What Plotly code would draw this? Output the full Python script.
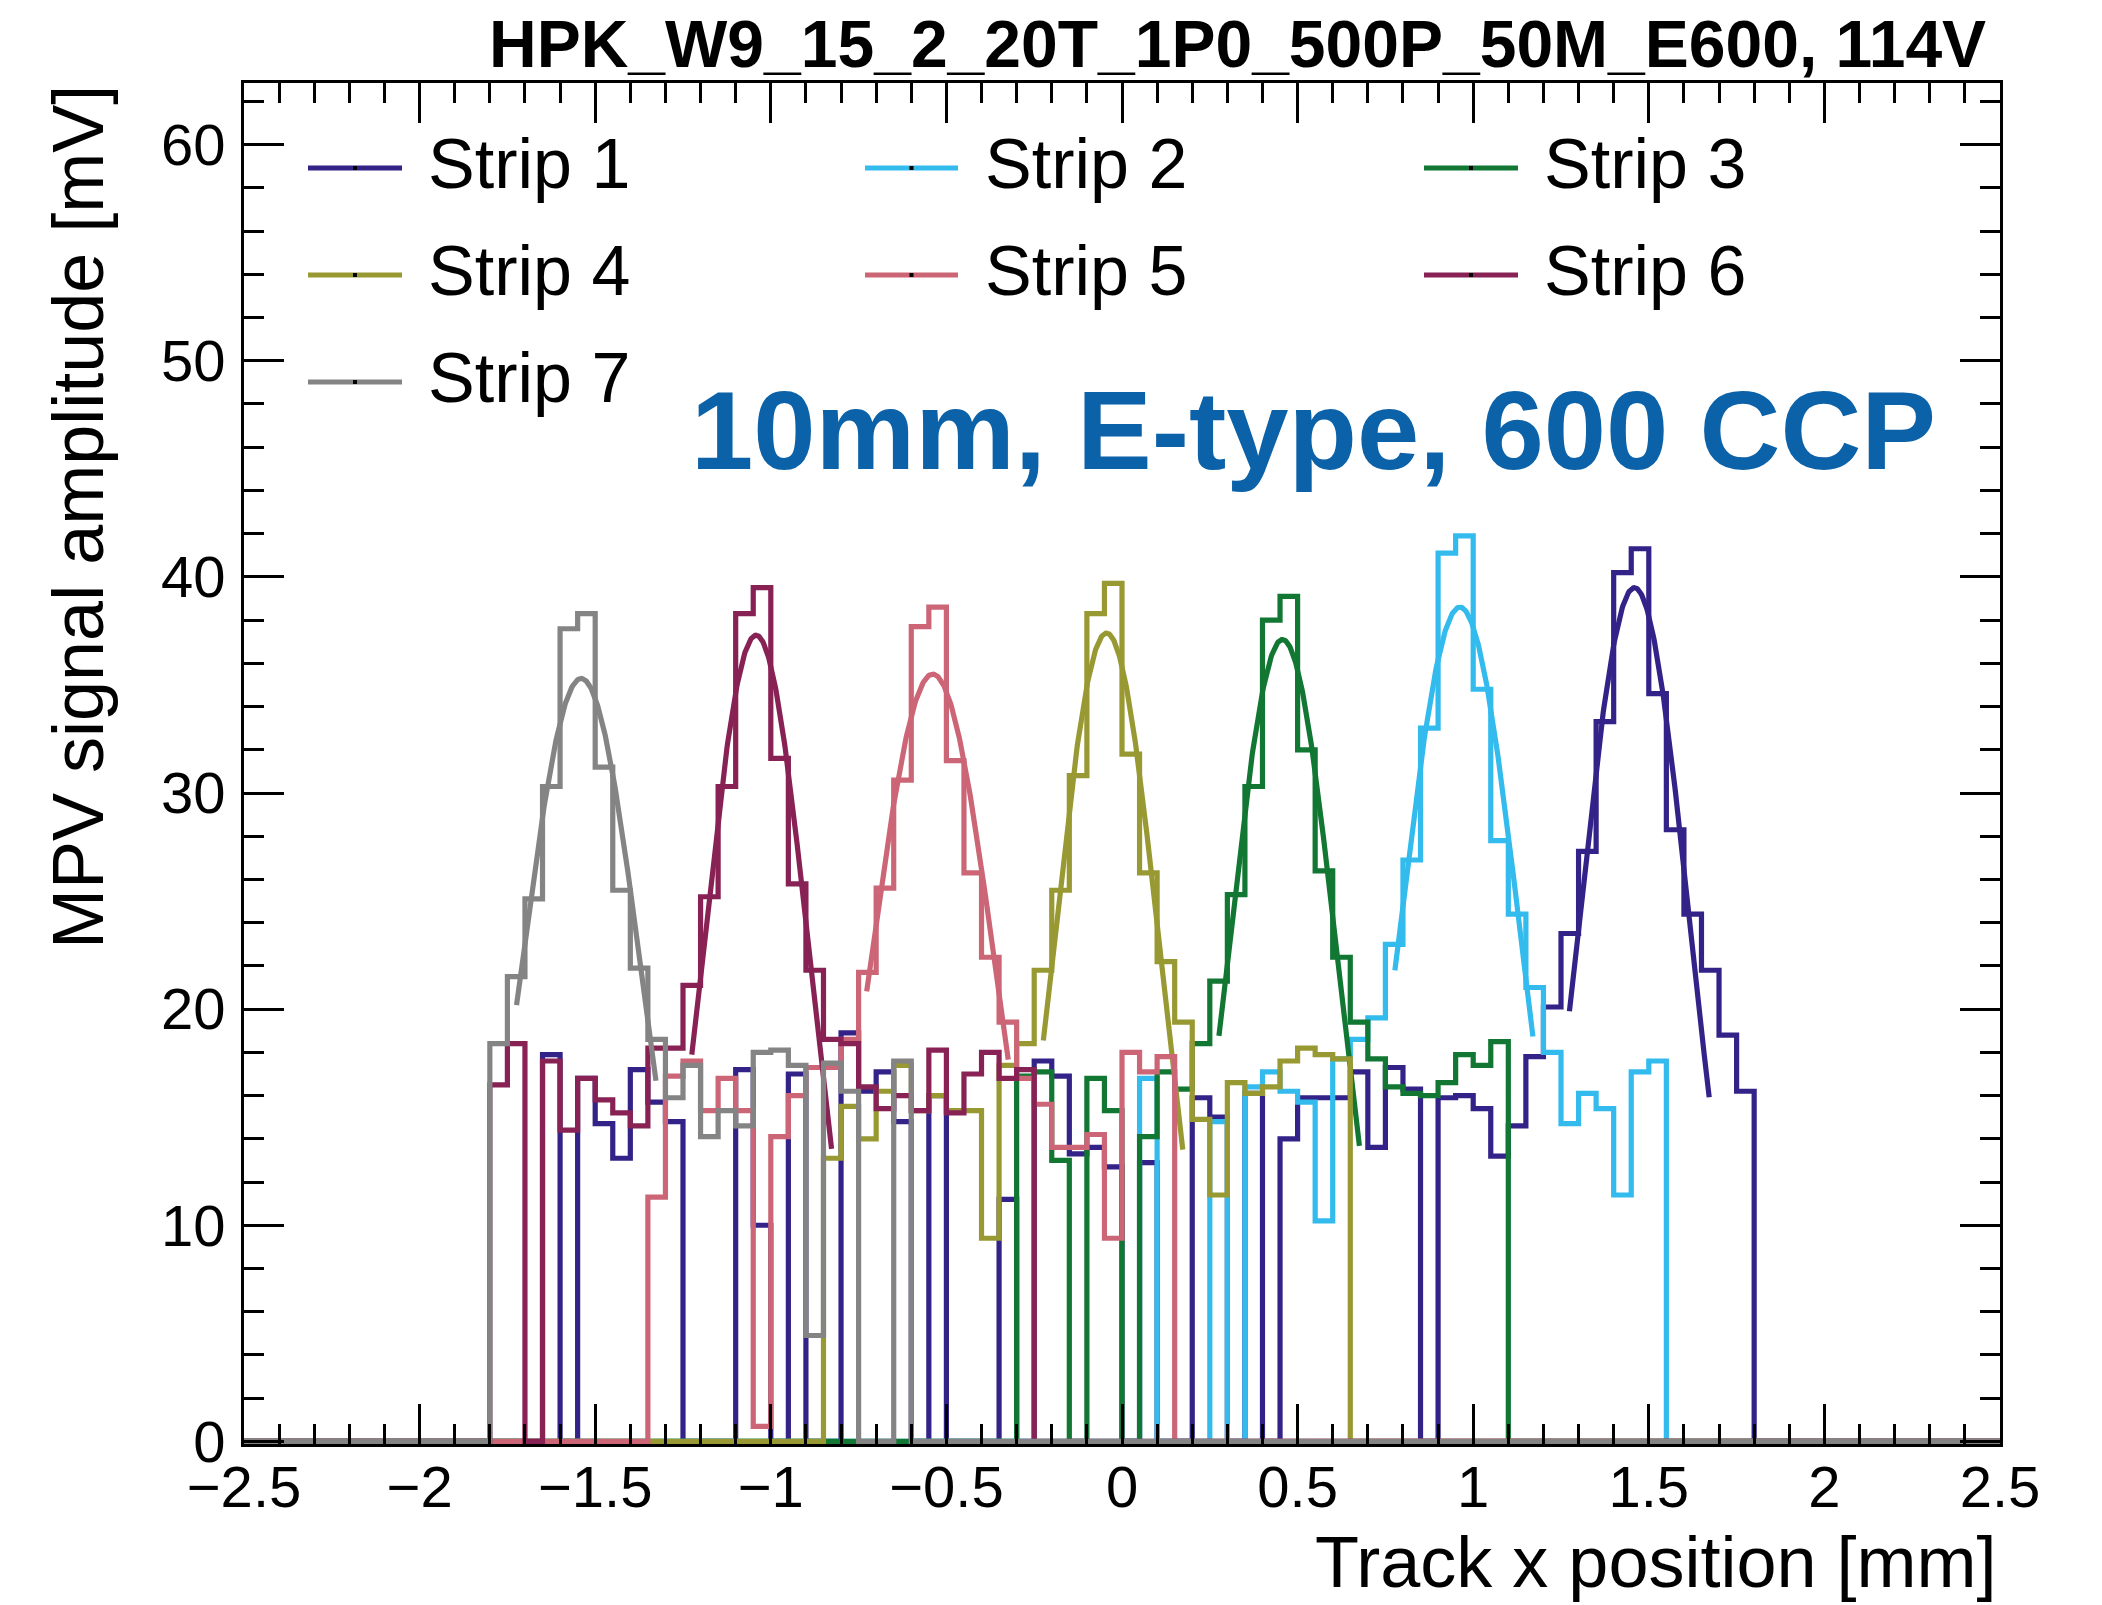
import numpy as np
import plotly.graph_objects as go

# ---------------- data ----------------
bin_width = 0.05
hist_lo, hist_hi = -2.5, 2.5
data_lo = -1.8          # first bin with readable content (72 bins to +1.8)

strip_names = ["Strip 1", "Strip 2", "Strip 3", "Strip 4", "Strip 5", "Strip 6", "Strip 7"]
strip_colors = ["#332288", "#33BBEE", "#117733", "#999933", "#CC6677", "#882255", "#848484"]

# MPV per bin, bins from -1.8 to 1.8 in 0.05 mm steps (72 bins)
strip1 = [0, 0, 0, 17.9, 0, 16.8, 14.7, 13.1, 17.2, 15.7, 14.8, 0, 0, 0, 17.2, 10.0, 0, 17.0,
          0, 0, 18.9, 16.2, 17.1, 14.8, 0, 16.0, 0, 0, 0, 11.2, 0, 17.6, 16.9, 13.3, 13.6, 12.7,
          0, 12.9, 0, 0, 15.9, 15.0, 0, 16.1, 0, 14.0, 15.9, 15.9, 15.9, 17.1, 13.6, 17.3,
          16.3, 0, 15.9, 16.0, 15.4, 13.2, 14.6, 17.8, 20.1, 23.5, 27.3, 33.3, 40.2, 41.3,
          34.6, 28.3, 24.4, 21.8, 18.8, 16.2]
strip2 = [0] * 37 + [16.8, 0, 0, 0, 14.8, 0, 16.4, 17.1, 16.2, 15.7, 10.2, 17.7, 18.6, 19.6,
                     23.0, 26.9, 33.0, 41.1, 41.9, 34.8, 27.8, 24.4, 21.0, 18.0, 14.7, 16.1,
                     15.4, 11.4, 17.1, 17.6] + [0] * 5
strip3 = [0] * 30 + [16.9, 17.1, 13.0, 0, 16.8, 15.3, 0, 14.1, 17.1, 16.3, 18.4, 21.3, 25.3,
                     30.3, 38.0, 39.1, 32.0, 26.4, 22.4, 19.4, 17.7, 16.4, 16.1, 16.0, 16.6,
                     17.9, 17.4, 18.5] + [0] * 14
strip4 = [0] * 19 + [13.1, 15.5, 14.0, 16.2, 17.4, 15.3, 16.0, 15.3, 15.3, 9.4, 17.4, 18.4,
                     21.8, 25.5, 30.8, 38.3, 39.7, 31.8, 26.3, 22.2, 19.4, 14.9, 11.4, 16.6,
                     16.1, 16.4, 17.6, 18.2, 17.9, 17.7] + [0] * 23
strip5 = [0] * 9 + [11.3, 16.9, 17.6, 15.3, 16.8, 15.3, 0.7, 14.1, 16.0, 17.3, 17.3, 18.6,
                    21.7, 25.6, 30.6, 37.7, 38.6, 31.5, 26.3, 22.4, 19.4, 16.8, 15.6, 13.6,
                    13.6, 14.2, 9.4, 18.0, 17.1, 17.8] + [0] * 33
strip6 = [16.5, 18.4, 0, 17.6, 14.4, 16.8, 15.8, 15.2, 14.6, 18.2, 18.2, 21.1, 25.2, 30.3,
          38.3, 39.5, 31.6, 25.8, 21.8, 18.6, 18.4, 16.4, 15.4, 16.0, 15.3, 18.1, 15.2, 17.0,
          18.0, 16.8, 17.2] + [0] * 41
strip7 = [18.4, 21.5, 25.1, 30.3, 37.6, 38.3, 31.2, 25.5, 21.9, 18.6, 15.9, 17.4, 14.1, 15.3,
          14.6, 18.0, 18.1, 17.4, 4.9, 17.5, 16.2, 0, 0, 17.6] + [0] * 48
strips = [strip1, strip2, strip3, strip4, strip5, strip6, strip7]

# Gaussian fit parameters
fit_amp = [39.5, 38.6, 37.1, 37.4, 35.5, 37.3, 35.3]
fit_mean = [1.459, 0.962, 0.457, -0.044, -0.539, -1.042, -1.540]
fit_sigma = [0.158, 0.173, 0.155, 0.152, 0.182, 0.151, 0.174]
fit_lo = [1.274, 0.777, 0.276, -0.224, -0.727, -1.225, -1.724]
fit_hi = [1.672, 1.170, 0.676, 0.173, -0.324, -0.827, -1.327]

x_ticks = [-2.5, -2, -1.5, -1, -0.5, 0, 0.5, 1, 1.5, 2, 2.5]
y_ticks = [0, 10, 20, 30, 40, 50, 60]
y_max = 62.85

title_text = "HPK_W9_15_2_20T_1P0_500P_50M_E600, 114V"
label_text = "10mm, E-type, 600 CCP"

# ---------------- figure ----------------
FONT = "Liberation Sans, Arial, Helvetica, sans-serif"
LW = 5.2
nbins = int(round((hist_hi - hist_lo) / bin_width))
edges = hist_lo + bin_width * np.arange(nbins + 1)
offset = int(round((data_lo - hist_lo) / bin_width))

fig = go.Figure()
for k, vals in enumerate(strips):
    full = np.zeros(nbins)
    full[offset:offset + len(vals)] = vals
    yy = np.append(full, full[-1])
    fig.add_trace(go.Scatter(x=edges, y=yy, mode="lines", line=dict(shape="hv", color=strip_colors[k], width=LW),
                             name=strip_names[k], showlegend=False, hoverinfo="skip"))
    xf = np.linspace(fit_lo[k], fit_hi[k], 200)
    yf = fit_amp[k] * np.exp(-0.5 * ((xf - fit_mean[k]) / fit_sigma[k]) ** 2)
    fig.add_trace(go.Scatter(x=xf, y=yf, mode="lines", line=dict(color=strip_colors[k], width=LW),
                             showlegend=False, hoverinfo="skip"))

# page has an 8 px body margin; plot frame in page pixels: x 244..2000, y 83..1444
BODY = 8
W, H = 2102 - BODY, 1605 - BODY
ml, mr, mt, mb = 244 - BODY, 102, 83 - BODY, 161
PL, PR, PT, PB = 244, 2000, 83, 1444

def px2x(px):
    return (px - PL) / (PR - PL)

def py2y(py):
    return (PB - py) / (PB - PT)

annotations = []
shapes = []

# manual ROOT-style legend (3 columns)
leg_cols_line = [(308, 402), (865, 958), (1424, 1518)]
leg_cols_text = [426, 983, 1542]
leg_rows = [168, 275, 382]
for k, name in enumerate(strip_names):
    r, c = divmod(k, 3)
    x0, x1 = leg_cols_line[c]
    yy = py2y(leg_rows[r])
    shapes.append(dict(type="line", xref="paper", yref="paper", x0=px2x(x0), x1=px2x(x1), y0=yy, y1=yy,
                       line=dict(color=strip_colors[k], width=5)))
    xm = (x0 + x1) / 2
    shapes.append(dict(type="rect", xref="paper", yref="paper", x0=px2x(xm - 2), x1=px2x(xm + 2),
                       y0=py2y(leg_rows[r] + 2), y1=py2y(leg_rows[r] - 2),
                       line=dict(width=0), fillcolor="black"))
    annotations.append(dict(text=name, xref="paper", yref="paper", x=px2x(leg_cols_text[c]), y=py2y(leg_rows[r] - 4),
                            xanchor="left", yanchor="middle", showarrow=False,
                            font=dict(family=FONT, size=70, color="black")))

annotations.append(dict(text="<b>%s</b>" % title_text, xref="paper", yref="paper", x=px2x(1988), y=py2y(44),
                        xanchor="right", yanchor="middle", showarrow=False,
                        font=dict(family=FONT, size=66, color="black")))
annotations.append(dict(text="<b>%s</b>" % label_text, xref="paper", yref="paper", x=px2x(1938), y=py2y(430),
                        xanchor="right", yanchor="middle", showarrow=False,
                        font=dict(family=FONT, size=112, color="#0B62A8")))
annotations.append(dict(text="Track x position [mm]", xref="paper", yref="paper", x=px2x(1998), y=py2y(1562),
                        xanchor="right", yanchor="middle", showarrow=False,
                        font=dict(family=FONT, size=72, color="black")))
annotations.append(dict(text="MPV signal amplitude [mV]", xref="paper", yref="paper", x=px2x(78), y=1.0,
                        xanchor="center", yanchor="top", textangle=-90, showarrow=False,
                        font=dict(family=FONT, size=72, color="black")))

axis_common = dict(showline=True, linecolor="black", linewidth=3, mirror="ticks", ticks="inside",
                   tickcolor="black", tickwidth=3, ticklen=40, showgrid=False, zeroline=False,
                   tickfont=dict(family=FONT, size=58, color="black"))

fig.update_layout(
    width=W, height=H, margin=dict(l=ml, r=mr, t=mt, b=mb),
    paper_bgcolor="white", plot_bgcolor="white",
    showlegend=False,
    xaxis=dict(range=[hist_lo, hist_hi], tickvals=x_ticks, ticklabelstandoff=-10,
               minor=dict(dtick=0.1, ticks="inside", ticklen=20, tickwidth=3, tickcolor="black"),
               **axis_common),
    yaxis=dict(range=[-0.12, y_max], tickvals=y_ticks, ticklabelstandoff=4,
               minor=dict(dtick=2, ticks="inside", ticklen=20, tickwidth=3, tickcolor="black"),
               **axis_common),
    annotations=annotations, shapes=shapes,
)

fig.write_html("out.html")
